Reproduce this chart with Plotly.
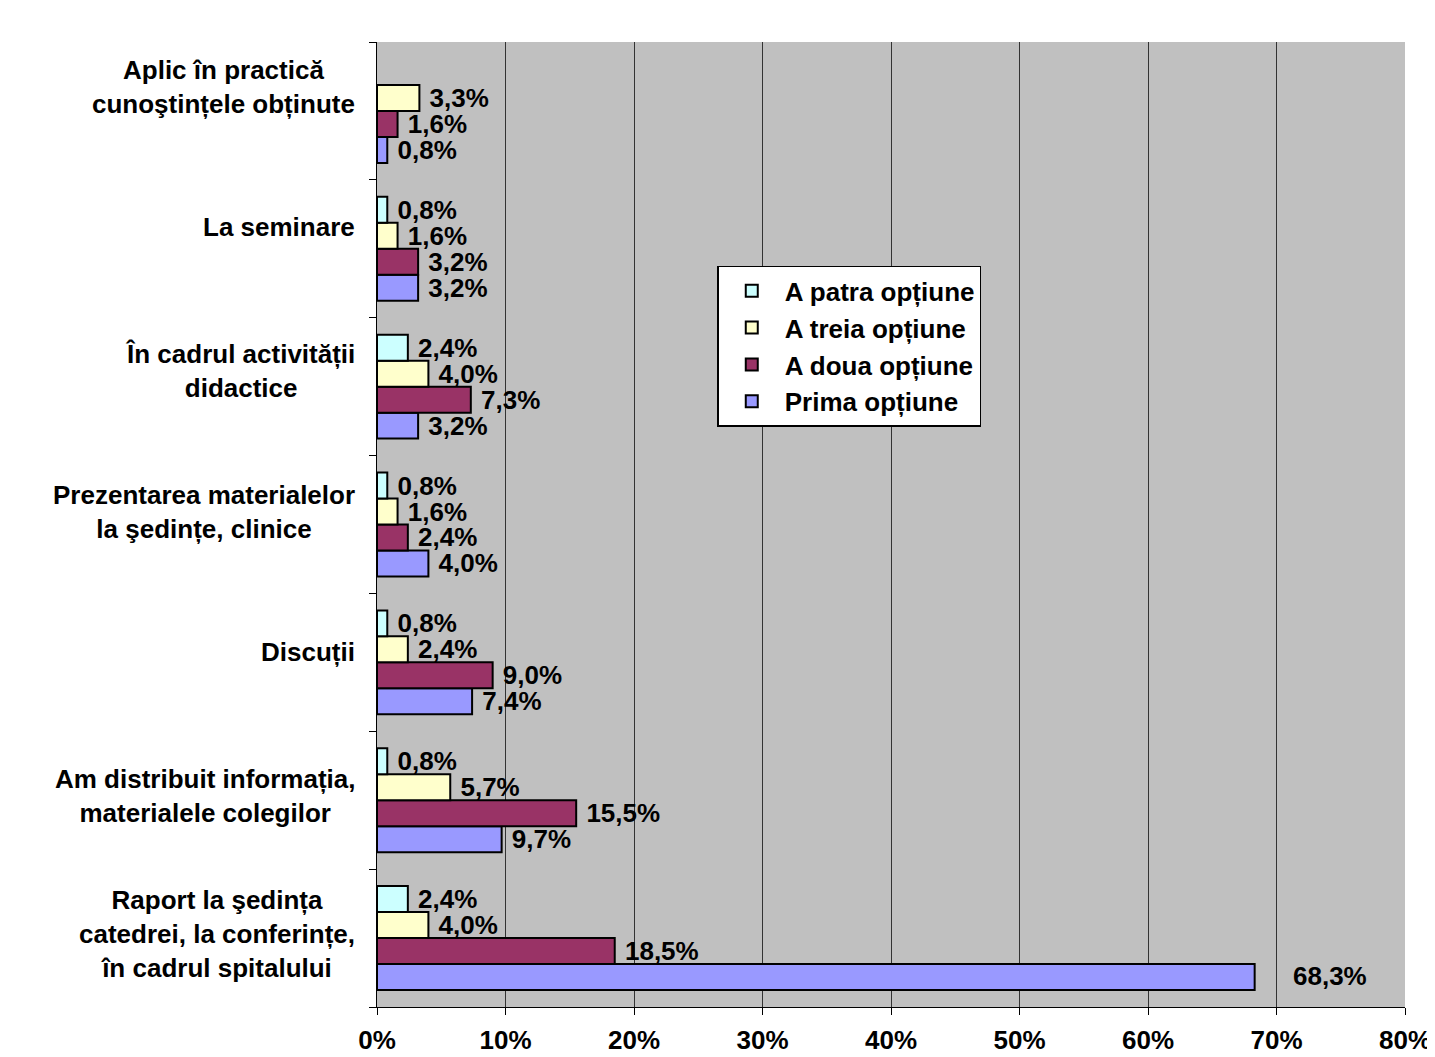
import plotly.graph_objects as go

categories = [
    "Raport la şedința<br>catedrei, la conferințe,<br>în cadrul spitalului",
    "Am distribuit informația,<br>materialele colegilor",
    "Discuții",
    "Prezentarea materialelor<br>la şedințe, clinice",
    "În cadrul activității<br>didactice",
    "La seminare",
    "Aplic în practică<br>cunoştințele obținute",
]

prima = [68.3, 9.7, 7.4, 4.0, 3.2, 3.2, 0.8]
a_doua = [18.5, 15.5, 9.0, 2.4, 7.3, 3.2, 1.6]
a_treia = [4.0, 5.7, 2.4, 1.6, 4.0, 1.6, 3.3]
a_patra = [2.4, 0.8, 0.8, 0.8, 2.4, 0.8, None]

series = [
    ("Prima opțiune", prima, "#9999FF"),
    ("A doua opțiune", a_doua, "#993366"),
    ("A treia opțiune", a_treia, "#FFFFCC"),
    ("A patra opțiune", a_patra, "#CCFFFF"),
]

FONT = "Liberation Sans, Arial, sans-serif"
FS = 26

# category labels in the original sit a little above the group centres
label_lift = [4, 4, 10, 13, 16, 22, 24]


def fmt(v):
    return "" if v is None else f"{v:.1f}".replace(".", ",") + "%"


fig = go.Figure()
for name, vals, color in series:
    texts = [(" " + fmt(v)) if v is not None else "" for v in vals]
    if name == "Prima opțiune":
        texts[0] = ""  # placed separately, like the original
    fig.add_trace(go.Bar(
        name=name, y=categories, x=vals, orientation="h",
        marker=dict(color=color, line=dict(color="black", width=2)),
        text=texts, textposition="outside", constraintext="none",
        textfont=dict(family=FONT, size=FS, color="black", weight="bold"),
        cliponaxis=False,
    ))

fig.add_annotation(
    x=prima[0], y=categories[0], xref="x", yref="y", text="<b>" + fmt(prima[0]) + "</b>",
    showarrow=False, xanchor="left", xshift=36, yshift=-38,
    font=dict(family=FONT, size=FS, color="black"),
)

for c, lift in zip(categories, label_lift):
    fig.add_annotation(
        x=0, y=c, xref="paper", yref="y", text="<b>" + c + "</b>",
        showarrow=False, xanchor="right", align="center", xshift=-20, yshift=lift,
        font=dict(family=FONT, size=FS, color="black"),
    )

# page body adds an 8px offset, so the figure is 8px smaller
fig.update_layout(
    width=1427, height=1049,
    margin=dict(l=369, r=30, t=34, b=50),
    paper_bgcolor="white", plot_bgcolor="#C0C0C0",
    barmode="group", bargap=0.246, bargroupgap=0,
    font=dict(family=FONT, size=FS, color="black"),
    legend=dict(
        x=0.331, y=0.768, xanchor="left", yanchor="top",
        traceorder="reversed", bgcolor="white",
        bordercolor="black", borderwidth=1.5,
        font=dict(family=FONT, size=26, color="black", weight="bold"),
        itemwidth=56, tracegroupgap=0,
    ),
    showlegend=True,
)

fig.update_xaxes(
    range=[0, 80], dtick=10, ticksuffix="%", automargin=False,
    showgrid=True, gridcolor="#333333", gridwidth=1,
    showline=True, linecolor="black", linewidth=1,
    ticks="outside", ticklen=7, tickcolor="black",
    tickfont=dict(family=FONT, size=FS, color="black", weight="bold"),
    ticklabelstandoff=3, zeroline=False,
)
fig.update_yaxes(
    showticklabels=False, ticks="outside", ticklen=7, tickcolor="black",
    tickson="boundaries", showline=True, linecolor="black", linewidth=1,
    showgrid=False, automargin=False,
)

fig.write_html("out.html")
